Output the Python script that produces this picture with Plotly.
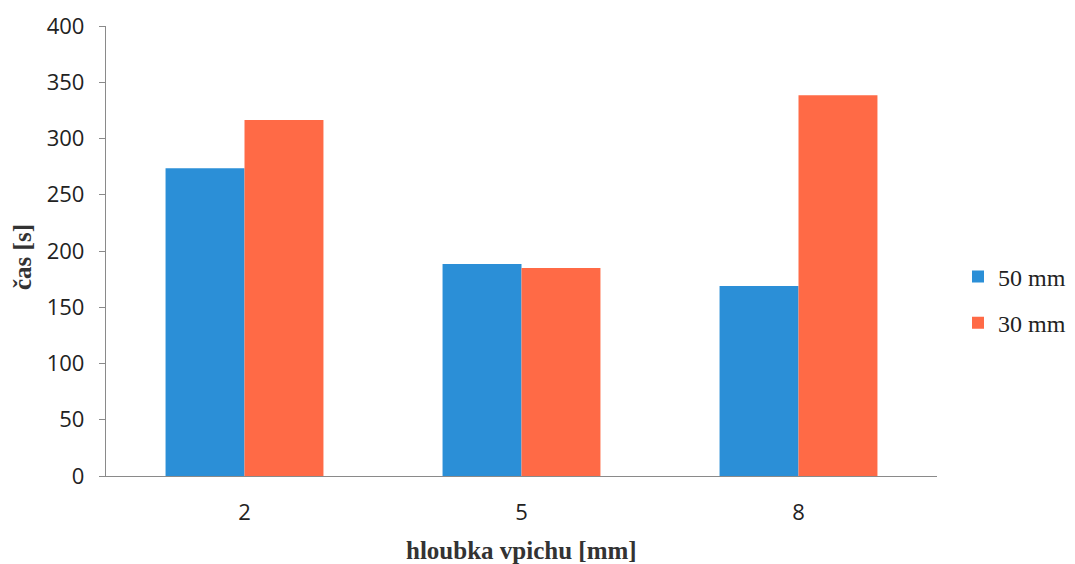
import plotly.graph_objects as go

categories = ["2", "5", "8"]
series_50 = [273.5, 188.5, 169]
series_30 = [316.5, 185, 338.5]
series_names = ["50 mm", "30 mm"]
y_ticks = [0, 50, 100, 150, 200, 250, 300, 350, 400]

BLUE = "#2B8FD7"
ORANGE = "#FF6A46"

# page body has an 8px margin, so figure coords = screen coords - 8
OFF = 8
W, H = 1075 - OFF, 564 - OFF
L, T = 106 - OFF, 26 - OFF
R = W - (937 - OFF)
B = H - (476 - OFF)
PW, PH = W - L - R, H - T - B


def px(xs):
    return (xs - OFF - L) / PW


def py(ys):
    return (H - B - (ys - OFF)) / PH


fig = go.Figure()
fig.add_trace(go.Bar(x=categories, y=series_50, name=series_names[0], legendgroup="a",
                     marker=dict(color=BLUE, line=dict(width=0))))
fig.add_trace(go.Bar(x=categories, y=series_30, name=series_names[1], legendgroup="b",
                     marker=dict(color=ORANGE, line=dict(width=0))))

fig.update_layout(
    width=W, height=H,
    margin=dict(l=L, r=R, t=T, b=B, autoexpand=False),
    paper_bgcolor="white", plot_bgcolor="white",
    barmode="group", bargap=0.43, bargroupgap=0,
    showlegend=True,
    legend=dict(x=px(958), y=py(300), xanchor="left", yanchor="middle",
                font=dict(family="Liberation Serif", size=24, color="#222"),
                itemsizing="constant", tracegroupgap=12, itemwidth=30,
                borderwidth=0, bgcolor="rgba(0,0,0,0)"),
    xaxis=dict(type="category", showgrid=False, showline=True, automargin=False,
               linecolor="#8a8a8a", linewidth=1.3, ticks="",
               tickfont=dict(family="Open Sans", size=22, color="#222"),
               ticklabelstandoff=16, zeroline=False),
    yaxis=dict(range=[0, 400], tickvals=y_ticks, showgrid=False, automargin=False,
               showline=True, linecolor="#8a8a8a", linewidth=1.3,
               ticks="outside", ticklen=6, tickcolor="#8a8a8a",
               tickfont=dict(family="Open Sans", size=22, color="#222"),
               ticklabelstandoff=10, zeroline=False),
    annotations=[
        dict(text="<b>hloubka vpichu [mm]</b>", xref="paper", yref="paper",
             x=px(521), y=py(550),
             xanchor="center", yanchor="middle", showarrow=False,
             font=dict(family="Liberation Serif", size=25, color="#333")),
        dict(text="<b>čas [s]</b>", xref="paper", yref="paper",
             x=px(22), y=py(257),
             xanchor="center", yanchor="middle", showarrow=False, textangle=-90,
             font=dict(family="Liberation Serif", size=25, color="#333")),
    ],
)

fig.write_html("out.html")
